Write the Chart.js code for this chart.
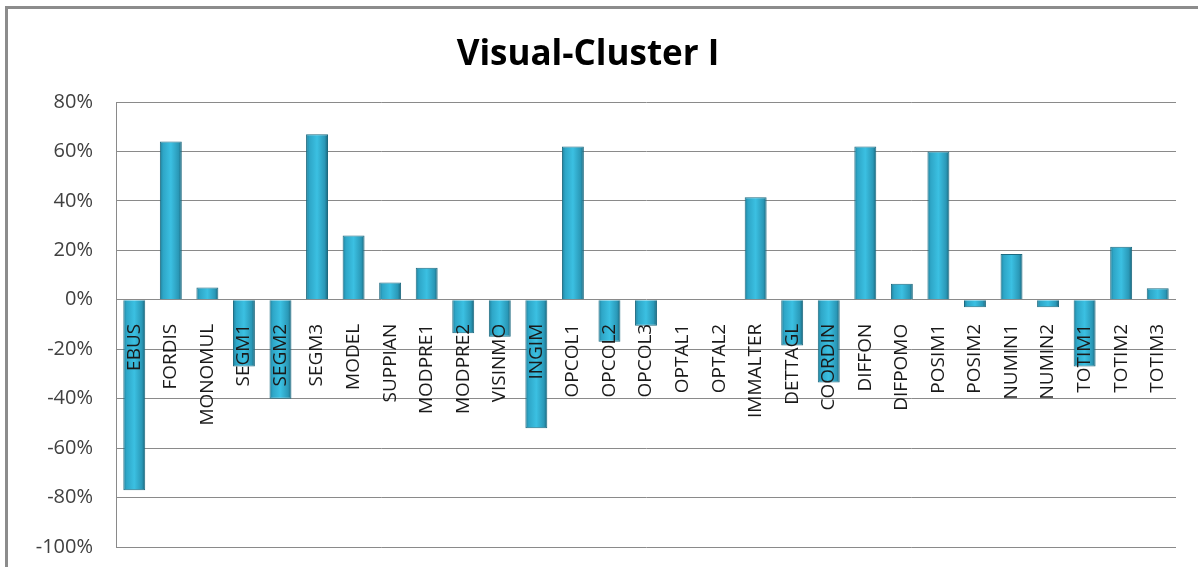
<!DOCTYPE html>
<html>
<head>
<meta charset="utf-8">
<script src="https://cdn.jsdelivr.net/npm/chart.js@4/dist/chart.umd.min.js"></script>
<style>
  html, body { margin: 0; padding: 0; background: #fff; }
  #wrap { position: relative; width: 1198px; height: 567px; overflow: hidden; }
  #frame { position: absolute; left: 5px; top: 6px; width: 1300px; height: 700px;
           border-top: 3px solid #8c8c8c; border-left: 3px solid #8c8c8c; }
  #myChart { position: absolute; left: 0; top: 0; }
</style>
</head>
<body>
<div id="wrap">
  <div id="frame"></div>
  <canvas id="myChart" width="1198" height="567"></canvas>
</div>
<script>
const categories = ['EBUS', 'FORDIS', 'MONOMUL', 'SEGM1', 'SEGM2', 'SEGM3', 'MODEL', 'SUPPIAN',
  'MODPRE1', 'MODPRE2', 'VISINMO', 'INGIM', 'OPCOL1', 'OPCOL2', 'OPCOL3', 'OPTAL1', 'OPTAL2',
  'IMMALTER', 'DETTAGL', 'COORDIN', 'DIFFON', 'DIFPOMO', 'POSIM1', 'POSIM2', 'NUMIN1', 'NUMIN2',
  'TOTIM1', 'TOTIM2', 'TOTIM3']
const values = [-77, 64, 5, -27, -40, 67, 26, 7,
  13, -13.5, -15, -52, 62, -17, -10.5, 0, 0,
  41.5, -18.5, -33.5, 62, 6.5, 60, -3, 18.5, -3,
  -27, 21.5, 4.7]
const yMin = -100
const yMax = 80
const yStep = 20

// horizontal shading across each bar, like the bevelled Excel bars
const barFill = (ctx) => {
    const chart = ctx.chart
    const xs = chart.scales.x
    if (!xs || ctx.dataIndex === undefined) return '#33add0'
    const cx = xs.getPixelForValue(ctx.dataIndex)
    if (!isFinite(cx)) return '#33add0'
    const half = 11
    const g = chart.ctx.createLinearGradient(cx - half, 0, cx + half, 0)
    g.addColorStop(0, '#1f7f9a')
    g.addColorStop(0.15, '#2ea6c7')
    g.addColorStop(0.5, '#3bc0e2')
    g.addColorStop(0.85, '#2a98b7')
    g.addColorStop(1, '#1a6378')
    return g
}

// the scales should not push the plot area in; layout padding decides it
const noPad = (scale) => {
    scale.paddingLeft = 0
    scale.paddingRight = 0
    scale.paddingTop = 0
    scale.paddingBottom = 0
}

const myChartRef = document.getElementById('myChart').getContext('2d')
new Chart(myChartRef, {
    type: 'bar',
    data: {
        labels: categories,
        datasets: [{
            label: 'Visual-Cluster I',
            data: values,
            backgroundColor: barFill,
            borderColor: '#1d6a80',
            borderWidth: 1,
            barPercentage: 0.6,
            categoryPercentage: 1
        }]
    },
    options: {
        responsive: false,
        animation: false,
        layout: { padding: { left: 0, right: 22, top: 0, bottom: 20 } },
        plugins: {
            legend: { display: false },
            tooltip: { enabled: false },
            title: {
                display: true,
                text: 'Visual-Cluster I',
                color: '#000',
                font: { family: 'Open Sans', size: 35, weight: 'bold', lineHeight: 1.2 },
                padding: { top: 34, bottom: 26 }
            }
        },
        scales: {
            x: {
                position: { y: 0 },
                afterFit: noPad,
                grid: { display: false, drawTicks: false },
                border: { display: false },
                ticks: {
                    z: 1,
                    autoSkip: false,
                    minRotation: 90,
                    maxRotation: 90,
                    padding: 24,
                    color: '#1a1a1a',
                    font: { family: 'Open Sans', size: 19 }
                }
            },
            y: {
                min: yMin,
                max: yMax,
                afterFit: (scale) => { scale.width = 116; noPad(scale) },
                grid: { color: '#8a8a8a', lineWidth: 1, drawTicks: false },
                border: { display: true, color: '#8a8a8a', width: 1 },
                ticks: {
                    stepSize: yStep,
                    padding: 23,
                    color: '#404040',
                    font: { family: 'Open Sans', size: 20 },
                    callback: (v) => v + '%'
                }
            }
        }
    }
})
</script>
</body>
</html>
